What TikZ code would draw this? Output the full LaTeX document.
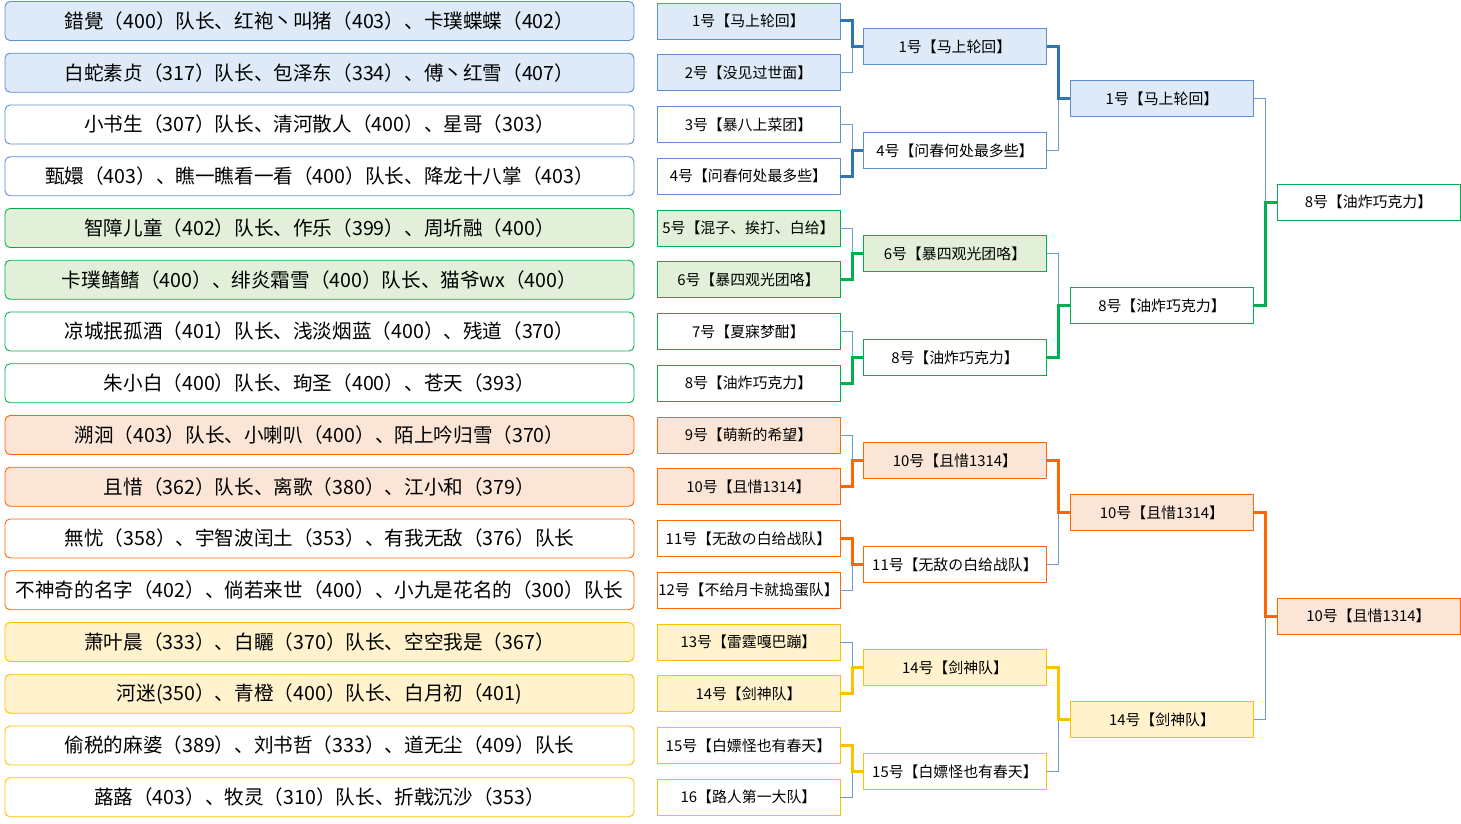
\documentclass[tikz,border=0pt]{standalone}
\usepackage{fontspec}
\setmainfont{Noto Sans CJK SC}
\usepackage{xcolor}
\usepackage{tikz}
\usetikzlibrary{positioning}

\definecolor{blueline}{HTML}{5B8FD0}
\definecolor{bluebg}{HTML}{DEEAF7}
\definecolor{bluewin}{HTML}{2E75B6}
\definecolor{greenline}{HTML}{00B050}
\definecolor{greenbg}{HTML}{E2F0D9}
\definecolor{orangeline}{HTML}{FF6600}
\definecolor{orangebg}{HTML}{FBE5D6}
\definecolor{yellowline}{HTML}{FFC000}
\definecolor{yellowbg}{HTML}{FFF2CC}
\definecolor{thinline}{HTML}{6A9BD3}

\begin{document}
\begin{tikzpicture}
  [
    x=1pt, y=-1pt,
    team/.style={
       rounded corners=5pt,
       minimum width=629pt,
       minimum height=39pt,
       inner sep=0pt,
       line width=0.9pt,
       font=\fontsize{19.6}{22}\selectfont
    },
    slot/.style={
       minimum width=183pt,
       minimum height=36pt,
       inner sep=0pt,
       line width=0.9pt,
       font=\fontsize{14.9}{17}\selectfont
    },
    bfill/.style={draw=blueline, fill=bluebg},
    bwhite/.style={draw=blueline, fill=white},
    gfill/.style={draw=greenline, fill=greenbg},
    gwhite/.style={draw=greenline, fill=white},
    ofill/.style={draw=orangeline, fill=orangebg},
    owhite/.style={draw=orangeline, fill=white},
    yfill/.style={draw=yellowline, fill=yellowbg},
    ywhite/.style={draw=yellowline, fill=white},
    lose/.style={draw=thinline, line width=1pt},
    win/.style={line width=3pt}
  ]
  \useasboundingbox (0,0) rectangle (1461,824);

  % teams
  \node (t01) at (319.5, 21.00) [team, bfill]  {錯覺（400）队长、红袍丶叫猪（403）、卡璞蝶蝶（402）};
  \node (t02) at (319.5, 72.75) [team, bfill]  {白蛇素贞（317）队长、包泽东（334）、傅丶红雪（407）};
  \node (t03) at (319.5,124.50) [team, bwhite] {小书生（307）队长、清河散人（400）、星哥（303）};
  \node (t04) at (319.5,176.25) [team, bwhite] {甄嬛（403）、瞧一瞧看一看（400）队长、降龙十八掌（403）};
  \node (t05) at (319.5,228.00) [team, gfill]  {智障儿童（402）队长、作乐（399）、周圻融（400）};
  \node (t06) at (319.5,279.75) [team, gfill]  {卡璞鳍鳍（400）、绯炎霜雪（400）队长、猫爷wx（400）};
  \node (t07) at (319.5,331.50) [team, gwhite] {凉城抿孤酒（401）队长、浅淡烟蓝（400）、残道（370）};
  \node (t08) at (319.5,383.25) [team, gwhite] {朱小白（400）队长、珣圣（400）、苍天（393）};
  \node (t09) at (319.5,435.00) [team, ofill]  {溯洄（403）队长、小喇叭（400）、陌上吟归雪（370）};
  \node (t10) at (319.5,486.75) [team, ofill]  {且惜（362）队长、离歌（380）、江小和（379）};
  \node (t11) at (319.5,538.50) [team, owhite] {無忧（358）、宇智波闰土（353）、有我无敌（376）队长};
  \node (t12) at (319.5,590.25) [team, owhite] {不神奇的名字（402）、倘若来世（400）、小九是花名的（300）队长};
  \node (t13) at (319.5,642.00) [team, yfill]  {萧叶晨（333）、白矖（370）队长、空空我是（367）};
  \node (t14) at (319.5,693.75) [team, yfill]  {河迷(350）、青橙（400）队长、白月初（401)};
  \node (t15) at (319.5,745.50) [team, ywhite] {偷税的麻婆（389）、刘书哲（333）、道无尘（409）队长};
  \node (t16) at (319.5,797.25) [team, ywhite] {蕗蕗（403）、牧灵（310）队长、折戟沉沙（353）};

  % round 1
  \node (a01) at (748.5, 21.00) [slot, bfill]  {1号【马上轮回】};
  \node (a02) at (748.5, 72.75) [slot, bfill]  {2号【没见过世面】};
  \node (a03) at (748.5,124.50) [slot, bwhite] {3号【暴八上菜团】};
  \node (a04) at (748.5,176.25) [slot, bwhite] {4号【问春何处最多些】};
  \node (a05) at (748.5,228.00) [slot, gfill]  {5号【混子、挨打、白给】};
  \node (a06) at (748.5,279.75) [slot, gfill]  {6号【暴四观光团咯】};
  \node (a07) at (748.5,331.50) [slot, gwhite] {7号【夏寐梦酣】};
  \node (a08) at (748.5,383.25) [slot, gwhite] {8号【油炸巧克力】};
  \node (a09) at (748.5,435.00) [slot, ofill]  {9号【萌新的希望】};
  \node (a10) at (748.5,486.75) [slot, ofill]  {10号【且惜1314】};
  \node (a11) at (748.5,538.50) [slot, owhite] {11号【无敌の白给战队】};
  \node (a12) at (748.5,590.25) [slot, owhite] {12号【不给月卡就捣蛋队】};
  \node (a13) at (748.5,642.00) [slot, yfill]  {13号【雷霆嘎巴蹦】};
  \node (a14) at (748.5,693.75) [slot, yfill]  {14号【剑神队】};
  \node (a15) at (748.5,745.50) [slot, ywhite] {15号【白嫖怪也有春天】};
  \node (a16) at (748.5,797.25) [slot, ywhite] {16【路人第一大队】};

  % round 2
  \node (b1) at (955, 46.875) [slot, bfill]  {1号【马上轮回】};
  \node (b2) at (955,150.375) [slot, bwhite] {4号【问春何处最多些】};
  \node (b3) at (955,253.875) [slot, gfill]  {6号【暴四观光团咯】};
  \node (b4) at (955,357.375) [slot, gwhite] {8号【油炸巧克力】};
  \node (b5) at (955,460.875) [slot, ofill]  {10号【且惜1314】};
  \node (b6) at (955,564.375) [slot, owhite] {11号【无敌の白给战队】};
  \node (b7) at (955,667.875) [slot, yfill]  {14号【剑神队】};
  \node (b8) at (955,771.375) [slot, ywhite] {15号【白嫖怪也有春天】};

  % round 3
  \node (c1) at (1162, 98.625) [slot, bfill]  {1号【马上轮回】};
  \node (c2) at (1162,305.625) [slot, gwhite] {8号【油炸巧克力】};
  \node (c3) at (1162,512.625) [slot, ofill]  {10号【且惜1314】};
  \node (c4) at (1162,719.625) [slot, yfill]  {14号【剑神队】};

  % final
  \node (d1) at (1368.5,202.125) [slot, gwhite] {8号【油炸巧克力】};
  \node (d2) at (1368.5,616.125) [slot, ofill]  {10号【且惜1314】};

  % losers
  \draw [lose] (a02.east) -- ++(12,0) |- (b1.west);
  \draw [lose] (a03.east) -- ++(12,0) |- (b2.west);
  \draw [lose] (a05.east) -- ++(12,0) |- (b3.west);
  \draw [lose] (a07.east) -- ++(12,0) |- (b4.west);
  \draw [lose] (a09.east) -- ++(12,0) |- (b5.west);
  \draw [lose] (a12.east) -- ++(12,0) |- (b6.west);
  \draw [lose] (a13.east) -- ++(12,0) |- (b7.west);
  \draw [lose] (a16.east) -- ++(12,0) |- (b8.west);
  \draw [lose] (b2.east) -- ++(12,0) |- (c1.west);
  \draw [lose] (b3.east) -- ++(12,0) |- (c2.west);
  \draw [lose] (b6.east) -- ++(12,0) |- (c3.west);
  \draw [lose] (b8.east) -- ++(12,0) |- (c4.west);
  \draw [lose] (c1.east) -- ++(12,0) |- (d1.west);
  \draw [lose] (c4.east) -- ++(12,0) |- (d2.west);

  % winners
  \draw [win, bluewin]    (a01.east) -- ++(12,0) |- (b1.west);
  \draw [win, bluewin]    (a04.east) -- ++(12,0) |- (b2.west);
  \draw [win, greenline]  (a06.east) -- ++(12,0) |- (b3.west);
  \draw [win, greenline]  (a08.east) -- ++(12,0) |- (b4.west);
  \draw [win, orangeline] (a10.east) -- ++(12,0) |- (b5.west);
  \draw [win, orangeline] (a11.east) -- ++(12,0) |- (b6.west);
  \draw [win, yellowline] (a14.east) -- ++(12,0) |- (b7.west);
  \draw [win, yellowline] (a15.east) -- ++(12,0) |- (b8.west);
  \draw [win, bluewin]    (b1.east) -- ++(12,0) |- (c1.west);
  \draw [win, greenline]  (b4.east) -- ++(12,0) |- (c2.west);
  \draw [win, orangeline] (b5.east) -- ++(12,0) |- (c3.west);
  \draw [win, yellowline] (b7.east) -- ++(12,0) |- (c4.west);
  \draw [win, greenline]  (c2.east) -- ++(12,0) |- (d1.west);
  \draw [win, orangeline] (c3.east) -- ++(12,0) |- (d2.west);
\end{tikzpicture}
\end{document}
